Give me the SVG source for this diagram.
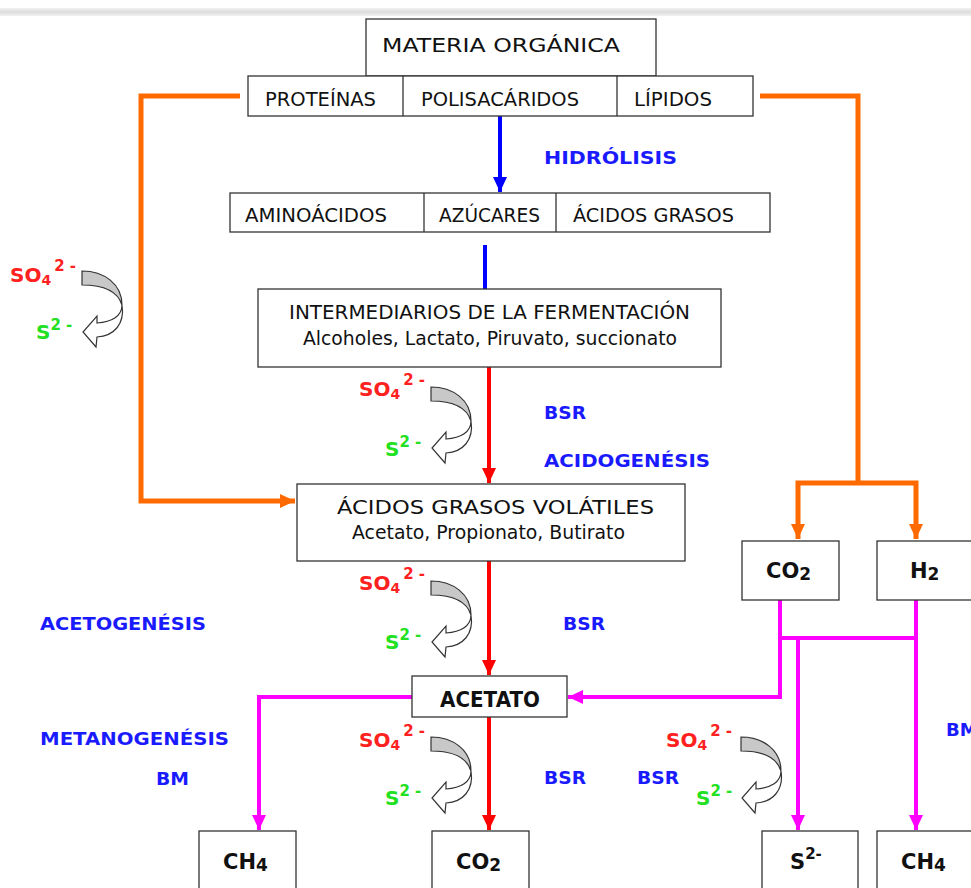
<svg xmlns="http://www.w3.org/2000/svg" width="971" height="888" viewBox="0 0 971 888">
<style>
text{font-family:"DejaVu Sans","Liberation Sans",sans-serif;}
.box{fill:#fff;stroke:#333;stroke-width:1.3;}
.t{font-size:20px;fill:#111;}
.tb{font-size:21px;font-weight:bold;fill:#111;}
.lbl{font-size:18px;font-weight:bold;fill:#1a1aff;}
.so{font-size:20px;font-weight:bold;fill:#ff2020;}
.s2{font-size:20px;font-weight:bold;fill:#22e022;}
.or{fill:none;stroke:#ff6a00;stroke-width:5;}
.mg{fill:none;stroke:#ff00ff;stroke-width:4;}
.rd{fill:none;stroke:#ff0000;stroke-width:4;}
.bl{fill:none;stroke:#0000ff;stroke-width:4;}
</style>
<defs>
<marker id="aOr" markerUnits="userSpaceOnUse" markerWidth="18" markerHeight="18" refX="15" refY="8" orient="auto"><path d="M0,1 L15,8 L0,15 Z" fill="#ff6a00"/></marker>
<marker id="aMg" markerUnits="userSpaceOnUse" markerWidth="18" markerHeight="18" refX="15" refY="8" orient="auto"><path d="M0,1 L15,8 L0,15 Z" fill="#ff00ff"/></marker>
<marker id="aRd" markerUnits="userSpaceOnUse" markerWidth="18" markerHeight="18" refX="15" refY="8" orient="auto"><path d="M0,1 L15,8 L0,15 Z" fill="#ff0000"/></marker>
<marker id="aBl" markerUnits="userSpaceOnUse" markerWidth="18" markerHeight="18" refX="15" refY="8" orient="auto"><path d="M0,1 L15,8 L0,15 Z" fill="#0000ff"/></marker>
<g id="sw">
<path d="M0,1 C22,1 40,14 40,35 C36,22 22,15 0,15 Z" fill="#c8c8c8" stroke="#333" stroke-width="1.2"/>
<path d="M40,35 C40,46 30,52 15,53 L15,46 L1,62 L14,77 L15,67 C32,66 43,54 40,35 Z" fill="#fff" stroke="#333" stroke-width="1.2"/>
</g>
<linearGradient id="gr" x1="0" y1="0" x2="0" y2="1"><stop offset="0" stop-color="#f2f2f2"/><stop offset="0.5" stop-color="#dcdcdc"/><stop offset="1" stop-color="#f2f2f2"/></linearGradient>
</defs>
<rect x="0" y="0" width="971" height="888" fill="#fff"/>
<rect x="0" y="8" width="971" height="8" fill="url(#gr)"/>

<g id="connectors">
<path class="or" d="M240,96 H141 V501 H295" marker-end="url(#aOr)"/>
<path class="or" d="M760,96 H858 V483"/>
<path class="or" d="M858,483 H798 V539" marker-end="url(#aOr)"/>
<path class="or" d="M858,483 H916 V539" marker-end="url(#aOr)"/>
<path class="bl" d="M500,116 V192" marker-end="url(#aBl)"/>
<path class="bl" d="M485,245 V289"/>
<path class="rd" d="M489,367 V483" marker-end="url(#aRd)"/>
<path class="rd" d="M489,561 V675" marker-end="url(#aRd)"/>
<path class="rd" d="M489,717 V830" marker-end="url(#aRd)"/>
<path class="mg" d="M412,697 H259 V830" marker-end="url(#aMg)"/>
<path class="mg" d="M780,600 V697 H568" marker-end="url(#aMg)"/>
<path class="mg" d="M780,638 H916"/>
<path class="mg" d="M798,638 V830" marker-end="url(#aMg)"/>
<path class="mg" d="M916,600 V830" marker-end="url(#aMg)"/>
</g>

<g id="materia">
<rect class="box" x="366" y="19" width="290" height="57"/>
<text class="t" x="382" y="52" font-size="22" textLength="238" lengthAdjust="spacingAndGlyphs">MATERIA ORGÁNICA</text>
</g>
<g id="polimeros">
<rect class="box" x="248" y="76" width="505" height="40"/>
<line x1="403" y1="76" x2="403" y2="116" stroke="#333" stroke-width="1.3"/>
<line x1="617" y1="76" x2="617" y2="116" stroke="#333" stroke-width="1.3"/>
<text class="t" x="265" y="106" textLength="111" lengthAdjust="spacingAndGlyphs">PROTEÍNAS</text>
<text class="t" x="421" y="106" textLength="158" lengthAdjust="spacingAndGlyphs">POLISACÁRIDOS</text>
<text class="t" x="634" y="106" textLength="78" lengthAdjust="spacingAndGlyphs">LÍPIDOS</text>
</g>
<g id="monomeros">
<rect class="box" x="230" y="193" width="540" height="39"/>
<line x1="424" y1="193" x2="424" y2="232" stroke="#333" stroke-width="1.3"/>
<line x1="556" y1="193" x2="556" y2="232" stroke="#333" stroke-width="1.3"/>
<text class="t" x="245" y="222" textLength="142" lengthAdjust="spacingAndGlyphs">AMINOÁCIDOS</text>
<text class="t" x="439" y="222" textLength="101" lengthAdjust="spacingAndGlyphs">AZÚCARES</text>
<text class="t" x="573" y="222" textLength="161" lengthAdjust="spacingAndGlyphs">ÁCIDOS GRASOS</text>
</g>
<g id="intermediarios">
<rect class="box" x="258" y="289" width="463" height="78"/>
<text class="t" x="289" y="319" textLength="401" lengthAdjust="spacingAndGlyphs">INTERMEDIARIOS DE LA FERMENTACIÓN</text>
<text class="t" x="303" y="345" textLength="374" lengthAdjust="spacingAndGlyphs">Alcoholes, Lactato, Piruvato, succionato</text>
</g>
<g id="agv">
<rect class="box" x="297" y="484" width="388" height="77"/>
<text class="t" x="337" y="514" textLength="317" lengthAdjust="spacingAndGlyphs">ÁCIDOS GRASOS VOLÁTILES</text>
<text class="t" x="352" y="539" textLength="273" lengthAdjust="spacingAndGlyphs">Acetato, Propionato, Butirato</text>
</g>
<g id="acetato">
<rect class="box" x="412" y="676" width="155" height="41"/>
<text class="tb" x="440" y="707" font-size="20" textLength="100" lengthAdjust="spacingAndGlyphs">ACETATO</text>
</g>
<g id="co2a">
<rect class="box" x="742" y="541" width="97" height="59"/>
<text class="tb" x="766" y="578">CO<tspan font-size="17" dy="2">2</tspan></text>
</g>
<g id="h2">
<rect class="box" x="877" y="541" width="110" height="59"/>
<text class="tb" x="910" y="578">H<tspan font-size="17" dy="2">2</tspan></text>
</g>
<g id="ch4a">
<rect class="box" x="199" y="831" width="97" height="70"/>
<text class="tb" x="223" y="869">CH<tspan font-size="17" dy="2">4</tspan></text>
</g>
<g id="co2b">
<rect class="box" x="432" y="831" width="97" height="70"/>
<text class="tb" x="456" y="869">CO<tspan font-size="17" dy="2">2</tspan></text>
</g>
<g id="s2box">
<rect class="box" x="762" y="831" width="96" height="70"/>
<text class="tb" x="790" y="869">S<tspan font-size="15" dy="-10">2-</tspan></text>
</g>
<g id="ch4b">
<rect class="box" x="877" y="831" width="110" height="70"/>
<text class="tb" x="901" y="869">CH<tspan font-size="17" dy="2">4</tspan></text>
</g>

<g id="labels">
<text class="lbl" x="544" y="164" textLength="133" lengthAdjust="spacingAndGlyphs">HIDRÓLISIS</text>
<text class="lbl" x="544" y="419" textLength="42" lengthAdjust="spacingAndGlyphs">BSR</text>
<text class="lbl" x="544" y="467" textLength="166" lengthAdjust="spacingAndGlyphs">ACIDOGENÉSIS</text>
<text class="lbl" x="40" y="630" textLength="166" lengthAdjust="spacingAndGlyphs">ACETOGENÉSIS</text>
<text class="lbl" x="563" y="630" textLength="42" lengthAdjust="spacingAndGlyphs">BSR</text>
<text class="lbl" x="40" y="745" textLength="189" lengthAdjust="spacingAndGlyphs">METANOGENÉSIS</text>
<text class="lbl" x="156" y="785" textLength="33" lengthAdjust="spacingAndGlyphs">BM</text>
<text class="lbl" x="544" y="784" textLength="42" lengthAdjust="spacingAndGlyphs">BSR</text>
<text class="lbl" x="637" y="784" textLength="42" lengthAdjust="spacingAndGlyphs">BSR</text>
<text class="lbl" x="946" y="736">BM</text>
</g>

<g id="sulfato">
<text class="so" x="10" y="282">SO<tspan font-size="14" dy="3">4</tspan><tspan font-size="15" dy="-14" dx="3">2 -</tspan></text>
<text class="s2" x="36" y="339">S<tspan font-size="15" dy="-9">2 -</tspan></text>
<use href="#sw" x="82" y="270"/>
<text class="so" x="359" y="396">SO<tspan font-size="14" dy="3">4</tspan><tspan font-size="15" dy="-14" dx="3">2 -</tspan></text>
<text class="s2" x="385" y="456">S<tspan font-size="15" dy="-9">2 -</tspan></text>
<use href="#sw" x="431" y="386"/>
<text class="so" x="359" y="590">SO<tspan font-size="14" dy="3">4</tspan><tspan font-size="15" dy="-14" dx="3">2 -</tspan></text>
<text class="s2" x="385" y="649">S<tspan font-size="15" dy="-9">2 -</tspan></text>
<use href="#sw" x="431" y="580"/>
<text class="so" x="359" y="747">SO<tspan font-size="14" dy="3">4</tspan><tspan font-size="15" dy="-14" dx="3">2 -</tspan></text>
<text class="s2" x="385" y="805">S<tspan font-size="15" dy="-9">2 -</tspan></text>
<use href="#sw" x="431" y="736"/>
<text class="so" x="666" y="747">SO<tspan font-size="14" dy="3">4</tspan><tspan font-size="15" dy="-14" dx="3">2 -</tspan></text>
<text class="s2" x="696" y="805">S<tspan font-size="15" dy="-9">2 -</tspan></text>
<use href="#sw" x="741" y="736"/>
</g>
</svg>
